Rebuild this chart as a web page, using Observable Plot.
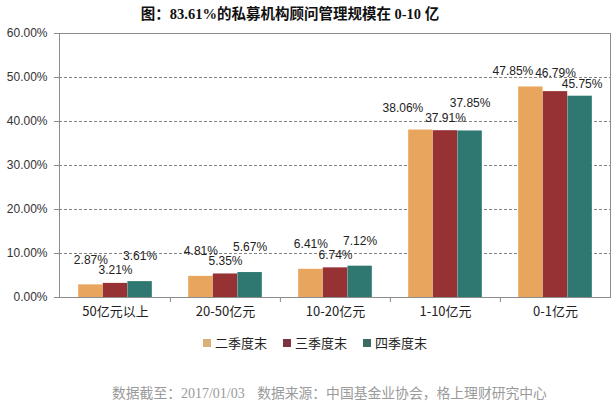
<!DOCTYPE html>
<html><head><meta charset="utf-8">
<script src="https://cdn.jsdelivr.net/npm/d3@7"></script>
<script src="https://cdn.jsdelivr.net/npm/@observablehq/plot@0.6"></script>
<style>
body{margin:0;background:#fff;}
#wrap{position:relative;width:616px;height:403px;overflow:hidden;font-family:"Liberation Sans","Noto Sans CJK SC",sans-serif;}
#chart{position:absolute;left:0;top:0;}
#title{position:absolute;left:0;width:580px;top:2px;text-align:center;font-weight:bold;font-size:14.5px;font-family:"Liberation Serif","Noto Sans CJK SC",serif;color:#111;white-space:nowrap;}
#legend{position:absolute;left:203px;top:333px;display:flex;font-size:13px;color:#222;font-family:"Noto Sans CJK SC",sans-serif;}
#legend .it{display:flex;align-items:center;margin-right:16px;}
#legend .sw{width:8px;height:8px;margin-right:4px;}
#footer{position:absolute;left:112px;top:382px;font-size:13.8px;color:#9a9a9a;font-family:"Noto Sans CJK SC",sans-serif;white-space:nowrap;}
#footer .d{font-family:"Liberation Serif",serif;font-size:14px;}
</style></head>
<body>
<div id="wrap">
  <div id="chart"></div>
  <div id="title"></div>
  <div id="legend"></div>
  <div id="footer"></div>
</div>
<script>
const titleText = "图：83.61%的私募机构顾问管理规模在 0-10 亿";
const categories = ["50亿元以上", "20-50亿元", "10-20亿元", "1-10亿元", "0-1亿元"];
const series = ["二季度末", "三季度末", "四季度末"];
const q2 = [2.87, 4.81, 6.41, 38.06, 47.85];
const q3 = [3.21, 5.35, 6.74, 37.91, 46.79];
const q4 = [3.61, 5.67, 7.12, 37.85, 45.75];
const yTicks = [0, 10, 20, 30, 40, 50, 60];
const footerDate = "2017/01/03";
const footerSource = "数据来源：中国基金业协会，格上理财研究中心";

const colors = ["#E8A55D", "#973234", "#2F7872"];
const legendColors = ["#D9B07A", "#7E3340", "#3D6B62"];
const values = [q2, q3, q4];

// label placement (styling): default per series, with tweaks for the tall groups
const labelStyle = (ci, j) => {
  const base = [{dx: 0, dy: -25}, {dx: 0, dy: -13}, {dx: 0, dy: -25}][j];
  if (ci === 3) return [{dx: -18, dy: -22}, {dx: 0, dy: -13}, {dx: 0, dy: -28}][j];
  if (ci === 4) return [{dx: -18, dy: -16}, {dx: 0, dy: -18}, {dx: 2, dy: -12}][j];
  return base;
};

const W = 616, H = 330, ML = 59, MR = 6, MT = 33, MB = 33;
const bw = (W - ML - MR) / categories.length;
const groupW = bw * 0.67, barW = groupW / 3, off = (bw - groupW) / 2;

const rows = categories.flatMap((c, i) => series.map((s, j) => ({category: c, ci: i, series: s, sj: j, value: values[j][i]})));

const chart = Plot.plot({
  width: W, height: H,
  marginLeft: ML, marginRight: MR, marginTop: MT, marginBottom: MB,
  style: {fontFamily: "Liberation Sans, Noto Sans CJK SC, sans-serif", color: "#222", background: "transparent"},
  x: {domain: categories, padding: 0, axis: null, label: null},
  y: {domain: [0, 60], axis: null, label: null},
  marks: [
    Plot.gridY(yTicks.slice(1, -1), {stroke: "#777", strokeOpacity: 0.9, strokeDasharray: "3,2"}),
    ...series.map((s, j) => Plot.barY(rows.filter(d => d.sj === j), {
      x: "category", y: "value", fill: colors[j],
      insetLeft: off + j * barW, insetRight: bw - off - (j + 1) * barW
    })),
    ...rows.map(r => {
      const o = labelStyle(r.ci, r.sj);
      return Plot.text([r], {
        x: "category", y: "value", text: d => d.value.toFixed(2) + "%",
        dx: -groupW / 2 + barW * (r.sj + 0.5) + o.dx, dy: o.dy, fontSize: 12, fill: "#222"
      });
    }),
    Plot.frame({stroke: "#8c8c8c"}),
    Plot.axisY({ticks: yTicks, tickFormat: d => d.toFixed(2) + "%", tickSize: 5, tickPadding: 7, fontSize: 12, stroke: "#8c8c8c", fill: "#333", label: null}),
    Plot.axisX({tickSize: 0, tickPadding: 9, fontSize: 13, fill: "#222", fontFamily: "Noto Sans CJK SC, sans-serif", label: null}),
    Plot.axisX({ticks: categories.slice(1), tickSize: 5, tickFormat: () => "", dx: -bw / 2, stroke: "#8c8c8c", label: null})
  ]
});
document.getElementById("chart").appendChild(chart);
document.getElementById("title").textContent = titleText;

const lg = document.getElementById("legend");
series.forEach((s, j) => {
  const it = document.createElement("div"); it.className = "it";
  const sw = document.createElement("span"); sw.className = "sw"; sw.style.background = legendColors[j];
  const tx = document.createElement("span"); tx.textContent = s;
  it.appendChild(sw); it.appendChild(tx); lg.appendChild(it);
});
const ft = document.getElementById("footer");
ft.innerHTML = "数据截至：<span class='d'></span>&nbsp;&nbsp;&nbsp;&nbsp;<span class='s'></span>";
ft.querySelector(".d").textContent = footerDate;
ft.querySelector(".s").textContent = footerSource;
</script>
</body></html>
